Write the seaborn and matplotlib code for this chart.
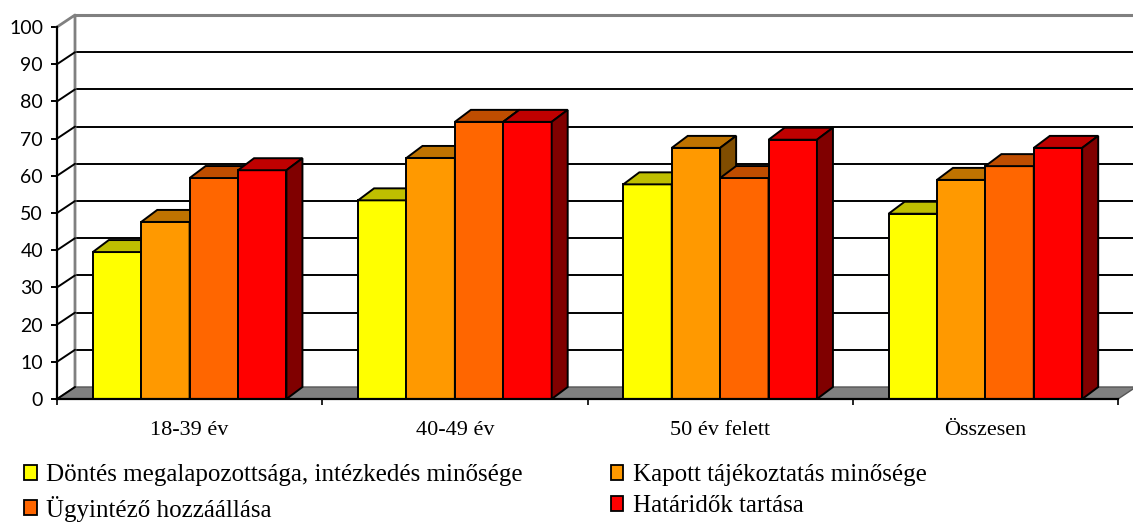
import numpy as np
import pandas as pd
import matplotlib
matplotlib.use("Agg")
import matplotlib.pyplot as plt
import seaborn as sns
from matplotlib.patches import Polygon, Patch
from matplotlib.colors import to_rgb

# ---- data -------------------------------------------------------------
categories = ["18-39 év", "40-49 év", "50 év felett", "Összesen"]
series = [
    "Döntés megalapozottsága, intézkedés minősége",
    "Kapott tájékoztatás minősége",
    "Ügyintéző hozzáállása",
    "Határidők tartása",
]
dontes = [39.5, 53.4, 57.7, 49.8]
tajekoztatas = [47.6, 64.8, 67.5, 58.9]
hozzaallas = [59.4, 74.5, 59.4, 62.6]
hataridok = [61.5, 74.5, 69.7, 67.5]
colors = ["#FFFF00", "#FF9900", "#FF6600", "#FF0000"]
y_ticks = list(range(0, 101, 10))

df = pd.DataFrame({
    "Korcsoport": categories * 4,
    "Szempont": np.repeat(series, len(categories)),
    "Érték": dontes + tajekoztatas + hozzaallas + hataridok,
})

# ---- figure -----------------------------------------------------------
W, H = 1133, 523
sns.set_theme(style="white")
plt.rcParams["font.family"] = ["Liberation Serif", "DejaVu Serif"]
plt.rcParams.update({"text.color": "black", "axes.labelcolor": "black",
                     "xtick.color": "black", "ytick.color": "black"})
fig = plt.figure(figsize=(W / 100, H / 100), dpi=100)
ax_l, ax_r, ax_t, ax_b = 57, 1118, 27, 399
ax = fig.add_axes([ax_l / W, (H - ax_b) / H, (ax_r - ax_l) / W, (ax_b - ax_t) / H])

sns.barplot(data=df, x="Korcsoport", y="Érték", hue="Szempont",
            order=categories, hue_order=series, palette=colors,
            width=0.73, gap=0, saturation=1, edgecolor="black",
            linewidth=1.4, legend=False, ax=ax)

ax.set_xlim(-0.5, 3.5)
ax.set_ylim(0, 100)
ax.set_xlabel("")
ax.set_ylabel("")
ax.grid(False)

# pixel -> data conversion for the oblique depth
px_x = (ax_r - ax_l) / 4.0
px_y = (ax_b - ax_t) / 100.0
wdx, wdy = 18 / px_x, 12 / px_y      # back wall / floor depth
bdx, bdy = 16 / px_x, 12 / px_y      # bar depth

# back wall gridlines and frame
for v in y_ticks[1:-1]:
    ax.plot([-0.5 + wdx, 3.6 + wdx], [v + wdy, v + wdy], color="black",
            lw=1.4, clip_on=False, zorder=0.5, solid_capstyle="butt")
    ax.plot([-0.5, -0.5 + wdx], [v, v + wdy], color="black", lw=1.4,
            clip_on=False, zorder=0.6)
ax.plot([-0.5 + wdx, 3.6 + wdx], [100 + wdy, 100 + wdy], color="#808080",
        lw=2.2, clip_on=False, zorder=0.5)
ax.plot([-0.5, -0.5 + wdx, -0.5 + wdx], [100, 100 + wdy, wdy],
        color="#808080", lw=2.0, clip_on=False, zorder=0.55)

# floor
floor = Polygon([(-0.5, 0), (3.5, 0), (3.5 + wdx, wdy), (-0.5 + wdx, wdy)],
                closed=True, facecolor="#808080", edgecolor="#555555",
                lw=1.0, clip_on=False, zorder=0.8)
ax.add_patch(floor)
ax.plot([-0.5, -0.5 + wdx], [0, wdy], color="black", lw=1.4,
        clip_on=False, zorder=0.85)


def shade(c, f):
    r, g, b = to_rgb(c)
    return (r * f, g * f, b * f)


# extrude every bar: front face from seaborn, then top and side faces
bars = []
for k, cont in enumerate(ax.containers):
    for p in cont.patches:
        bars.append((p.get_x(), k, p))
bars.sort(key=lambda t: t[0])
for i, (_, k, p) in enumerate(bars):
    x0, w, h = p.get_x(), p.get_width(), p.get_height()
    z = 2 + i * 0.01
    p.set_zorder(z)
    top = Polygon([(x0, h), (x0 + w, h), (x0 + w + bdx, h + bdy),
                   (x0 + bdx, h + bdy)], closed=True,
                  facecolor=shade(colors[k], 0.75), edgecolor="black",
                  lw=1.4, zorder=z + 0.001, joinstyle="miter")
    side = Polygon([(x0 + w, 0), (x0 + w + bdx, bdy), (x0 + w + bdx, h + bdy),
                    (x0 + w, h)], closed=True,
                   facecolor=shade(colors[k], 0.5), edgecolor="black",
                   lw=1.4, zorder=z + 0.002, joinstyle="miter")
    ax.add_patch(top)
    ax.add_patch(side)

# axes lines and ticks
for s in ["top", "right"]:
    ax.spines[s].set_visible(False)
for s in ["left", "bottom"]:
    ax.spines[s].set_color("black")
    ax.spines[s].set_linewidth(1.6)
    ax.spines[s].set_zorder(3)

ax.set_yticks(y_ticks)
ax.set_yticklabels([str(v) for v in y_ticks], fontfamily=["Lato", "DejaVu Sans"],
                   fontsize=14, color="black")
ax.tick_params(axis="y", direction="out", length=4.5, width=1.4,
               color="black", pad=5.5, left=True)
ax.set_xticks(range(len(categories)))
ax.set_xticklabels(categories, fontsize=16, color="black")
ax.tick_params(axis="x", which="major", length=0, pad=16, bottom=True)
ax.set_xticks(np.arange(-0.5, 4.0, 1.0), minor=True)
ax.tick_params(axis="x", which="minor", direction="out", length=4,
               width=1.2, color="black", bottom=True)

# legend, filled row by row
handles = [Patch(facecolor=c, edgecolor="black", lw=1.3) for c in colors]
order = [0, 2, 1, 3]
fig.legend([handles[i] for i in order], [series[i] for i in order],
           ncol=2, loc="upper left", bbox_to_anchor=(24 / W, 1 - 464 / H),
           frameon=False, fontsize=18, handlelength=0.5, handleheight=0.55,
           handletextpad=0.4, columnspacing=3.5, labelspacing=0.38,
           borderpad=0, borderaxespad=0, labelcolor="black")

fig.savefig("out.png", dpi=100, facecolor="white")
